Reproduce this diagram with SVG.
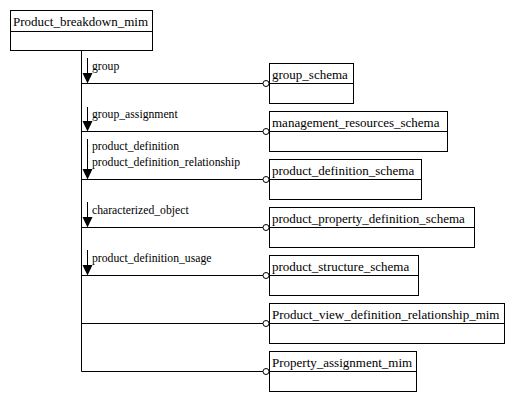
<svg xmlns="http://www.w3.org/2000/svg" width="515" height="402" viewBox="0 0 515 402">
<style>
.box{fill:#fff;stroke:#000;stroke-width:1}
.div{stroke:#000;stroke-width:1}
.title{font-family:"Liberation Serif","Times New Roman",serif;font-size:13px;fill:#000}
.lbl{font-family:"Liberation Serif","Times New Roman",serif;font-size:11.7px;fill:#000}
.ln{stroke:#000;stroke-width:1;fill:none}
.circ{fill:#fff;stroke:#000;stroke-width:1}
.ah{fill:#000;stroke:none}
</style>
<rect width="515" height="402" fill="#fff"/>
<g id="connectors">
<path class="ln" d="M81.5,51 V371.5"/>
<path class="ln" d="M81.5,83.5 H263"/>
<path class="ln" d="M81.5,131.5 H263"/>
<path class="ln" d="M81.5,179.5 H263"/>
<path class="ln" d="M81.5,227.5 H263"/>
<path class="ln" d="M81.5,275.5 H263"/>
<path class="ln" d="M81.5,323.5 H263"/>
<path class="ln" d="M81.5,371.5 H263"/>
<circle class="circ" cx="266" cy="83.5" r="3"/>
<circle class="circ" cx="266" cy="131.5" r="3"/>
<circle class="circ" cx="266" cy="179.5" r="3"/>
<circle class="circ" cx="266" cy="227.5" r="3"/>
<circle class="circ" cx="266" cy="275.5" r="3"/>
<circle class="circ" cx="266" cy="323.5" r="3"/>
<circle class="circ" cx="266" cy="371.5" r="3"/>
<path class="ln" d="M87.5,58 V74"/>
<polygon class="ah" points="82.5,73 92.5,73 87.5,83.5"/>
<text class="lbl" x="92" y="70">group</text>
<path class="ln" d="M87.5,107 V122"/>
<polygon class="ah" points="82.5,121 92.5,121 87.5,131.5"/>
<text class="lbl" x="92" y="118">group_assignment</text>
<path class="ln" d="M87.5,139 V170"/>
<polygon class="ah" points="82.5,169 92.5,169 87.5,179.5"/>
<text class="lbl" x="92" y="150">product_definition</text>
<text class="lbl" x="92" y="166">product_definition_relationship</text>
<path class="ln" d="M87.5,202 V218"/>
<polygon class="ah" points="82.5,217 92.5,217 87.5,227.5"/>
<text class="lbl" x="92" y="214">characterized_object</text>
<path class="ln" d="M87.5,250 V266"/>
<polygon class="ah" points="82.5,265 92.5,265 87.5,275.5"/>
<text class="lbl" x="92" y="262">product_definition_usage</text>
</g>
<g id="Product_breakdown_mim">
<rect class="box" x="10.5" y="10.5" width="142" height="40"/>
<path class="div" d="M10.5,31.5 H152.5"/>
<text class="title" x="13" y="26">Product_breakdown_mim</text>
</g>
<g id="group_schema">
<rect class="box" x="269.5" y="63.5" width="84" height="40"/>
<path class="div" d="M269.5,83.5 H353.5"/>
<text class="title" x="272" y="79">group_schema</text>
</g>
<g id="management_resources_schema">
<rect class="box" x="269.5" y="111.5" width="178" height="40"/>
<path class="div" d="M269.5,131.5 H447.5"/>
<text class="title" x="272" y="127">management_resources_schema</text>
</g>
<g id="product_definition_schema">
<rect class="box" x="269.5" y="159.5" width="152" height="40"/>
<path class="div" d="M269.5,179.5 H421.5"/>
<text class="title" x="272" y="175">product_definition_schema</text>
</g>
<g id="product_property_definition_schema">
<rect class="box" x="269.5" y="207.5" width="205" height="40"/>
<path class="div" d="M269.5,227.5 H474.5"/>
<text class="title" x="272" y="223">product_property_definition_schema</text>
</g>
<g id="product_structure_schema">
<rect class="box" x="269.5" y="255.5" width="149" height="40"/>
<path class="div" d="M269.5,275.5 H418.5"/>
<text class="title" x="272" y="271">product_structure_schema</text>
</g>
<g id="Product_view_definition_relationship_mim">
<rect class="box" x="269.5" y="303.5" width="235" height="40"/>
<path class="div" d="M269.5,323.5 H504.5"/>
<text class="title" x="272" y="319">Product_view_definition_relationship_mim</text>
</g>
<g id="Property_assignment_mim">
<rect class="box" x="269.5" y="351.5" width="147" height="40"/>
<path class="div" d="M269.5,371.5 H416.5"/>
<text class="title" x="272" y="367">Property_assignment_mim</text>
</g>
</svg>
